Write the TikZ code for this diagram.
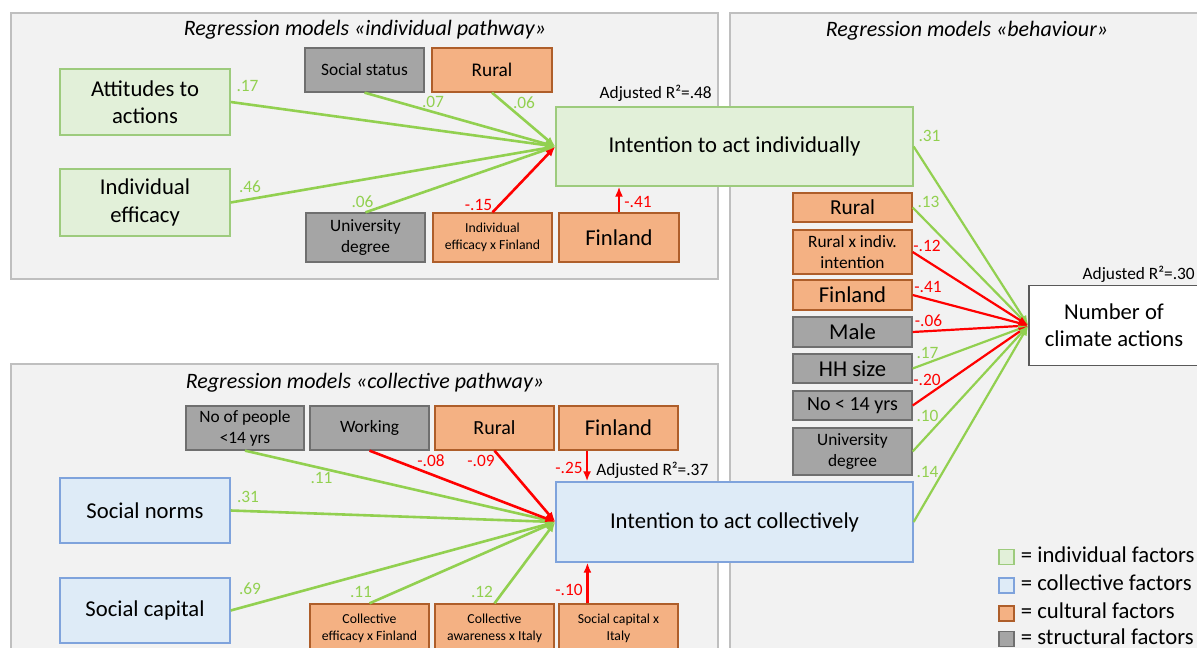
\documentclass[tikz,border=0pt]{standalone}
\usepackage{fontspec}
\setmainfont{Carlito}
\usepackage{xcolor}
\definecolor{panelgray}{HTML}{F2F2F2}
\definecolor{panelline}{HTML}{BFBFBF}
\definecolor{indfill}{HTML}{E2F0D9}
\definecolor{indline}{HTML}{9DCB7D}
\definecolor{colfill}{HTML}{DEEBF7}
\definecolor{colline}{HTML}{7FA3DC}
\definecolor{culfill}{HTML}{F4B183}
\definecolor{culline}{HTML}{AE5E2A}
\definecolor{strfill}{HTML}{A5A5A5}
\definecolor{strline}{HTML}{6F6F6F}
\definecolor{posgreen}{HTML}{92D050}
\definecolor{negred}{HTML}{FF0000}
\usepackage{tikz}
\usetikzlibrary{arrows.meta, positioning}
\newlength{\px}
\setlength{\px}{0.75pt}

\begin{document}
\begin{tikzpicture}[x=\px, y=-\px,
        panel/.style={draw=panelline, fill=panelgray, line width=1.3\px},
        title/.style={font=\itshape\fontsize{16.5}{19.8}\selectfont, inner sep=0pt},
        big/.style={font=\fontsize{17}{20.4}\selectfont},
        mid/.style={font=\fontsize{13}{15.6}\selectfont},
        sml/.style={font=\fontsize{10.3}{12.4}\selectfont},
        sz/.style 2 args={minimum width=#1\px, minimum height=#2\px},
        box/.style={rectangle, line width=1.3\px, align=center, inner sep=0pt},
        indbox/.style={box, draw=indline, fill=indfill},
        colbox/.style={box, draw=colline, fill=colfill},
        culbox/.style={box, draw=culline, fill=culfill},
        strbox/.style={box, draw=strline, fill=strfill},
        outbox/.style={box, draw=strline!80!black, fill=white},
        lgd/.style={sz={15}{15}},
        lgdtext/.style={big, inner sep=0pt, anchor=west, yshift=1.8pt},
        r2/.style={mid, inner sep=0pt},
        cpos/.style={mid, text=posgreen, inner sep=0pt},
        cneg/.style={mid, text=negred, inner sep=0pt},
        posline/.style={draw=posgreen, line width=1.95pt, -{Latex[length=7.5pt, width=6pt]}},
        negline/.style={draw=negred, line width=1.95pt, -{Latex[length=7.5pt, width=6pt]}},
        slim/.style={line width=1.65pt}]

    \clip (0,0) rectangle (1197,648);
    \fill [white] (0,0) rectangle (1197,648);

    \draw [panel] (11,13) rectangle (718,279);
    \draw [panel] (730,13) rectangle (1210,660);
    \draw [panel] (11,364) rectangle (718,660);

    \node [title] (tind) at (365,30) {Regression models «individual pathway»};
    \node [title] (tbeh) at (967,31) {Regression models «behaviour»};
    \node [title] (tcol) at (365,383) {Regression models «collective pathway»};

    \node [indbox, sz={170}{66}, big] (att) at (145,102) {Attitudes to\\actions};
    \node [indbox, sz={170}{67}, big] (ieff) at (145,202.5) {Individual\\efficacy};
    \node [strbox, sz={119}{44}, mid] (sstat) at (364.5,70) {Social status};
    \node [culbox, sz={120}{44}, font=\fontsize{14.5}{17.4}\selectfont] (rur1) at (492,70) {Rural};
    \node [indbox, sz={357}{79}, big] (ii) at (734.5,146.5) {Intention to act individually};
    \node [strbox, sz={119}{49}, mid] (univ1) at (365.5,237.5) {University\\degree};
    \node [culbox, sz={119}{49}, sml] (ieffin) at (492.5,237.5) {Individual\\efficacy x Finland};
    \node [culbox, sz={120}{49}, big] (fin1) at (619,237.5) {Finland};
    \node [r2, anchor=east] (r2ind) at (712,93) {Adjusted R²=.48};

    \path [posline] (att.east) -- (ii.west);
    \path [posline] (ieff.east) -- (ii.west);
    \path [posline] (sstat.south) -- (ii.west);
    \path [posline] (rur1.south) -- (ii.west);
    \path [posline] (univ1.north) -- (ii.west);
    \path [negline] (ieffin.north) -- (ii.west);
    \path [negline] (fin1.north) -- (fin1.north |- ii.south);

    \node [cpos] (catt) at (247.5,86) {.17};
    \node [cpos] (cieff) at (250,186.5) {.46};
    \node [cpos] (csstat) at (433,102) {.07};
    \node [cpos] (crur1) at (524,103) {.06};
    \node [cpos] (cuniv1) at (362.5,202) {.06};
    \node [cneg] (cieffin) at (478.5,205) {-.15};
    \node [cneg] (cfin1) at (638,202) {-.41};

    \node [culbox, sz={119}{29}, font=\fontsize{16}{19.2}\selectfont] (rur2) at (852.5,207.5) {Rural};
    \node [culbox, sz={119}{44}, mid] (rxi) at (852.5,252) {Rural x indiv.\\intention};
    \node [culbox, sz={119}{30}, big] (fin2) at (852.5,295) {Finland};
    \node [strbox, sz={119}{30}, big] (male) at (852.5,332) {Male};
    \node [strbox, sz={119}{29}, big] (hh) at (852.5,368.5) {HH size};
    \node [strbox, sz={119}{29}, font=\fontsize{15}{18}\selectfont] (no14) at (852.5,405.5) {No < 14 yrs};
    \node [strbox, sz={119}{47}, mid] (univ2) at (852.5,451.5) {University\\degree};
    \node [outbox, sz={170}{80}, big] (nca) at (1114,325.5) {Number of\\climate actions};
    \node [r2, anchor=east] (r2beh) at (1195,274) {Adjusted R²=.30};

    \node [strbox, sz={118}{44}, mid] (nop) at (245,428) {No of people\\<14 yrs};
    \node [strbox, sz={119}{44}, mid] (work) at (369.5,428) {Working};
    \node [culbox, sz={119}{44}, font=\fontsize{15}{18}\selectfont] (rur3) at (494.5,428) {Rural};
    \node [culbox, sz={119}{44}, big] (fin3) at (618.5,428) {Finland};
    \node [colbox, sz={170}{65}, big] (snorm) at (145,510.5) {Social norms};
    \node [colbox, sz={170}{65}, big] (scap) at (145,610.5) {Social capital};
    \node [colbox, sz={357}{80}, big] (ic) at (734.5,522) {Intention to act collectively};
    \node [culbox, sz={119}{49}, sml] (ceff) at (369.5,628.5) {Collective\\efficacy x Finland};
    \node [culbox, sz={119}{49}, sml] (cawit) at (494.5,628.5) {Collective\\awareness x Italy};
    \node [culbox, sz={119}{49}, sml] (scit) at (618.5,628.5) {Social capital x\\Italy};
    \node [r2, anchor=west] (r2col) at (596,470) {Adjusted R²=.37};

    \path [posline] (nop.south) -- (ic.west);
    \path [posline] (snorm.east) -- (ic.west);
    \path [posline] (scap.east) -- (ic.west);
    \path [negline] (work.south) -- (ic.west);
    \path [negline] (rur3.south) -- (ic.west);
    \path [posline] (ceff.north) -- (ic.west);
    \path [posline] (cawit.north) -- (ic.west);
    \path [negline] ([xshift=-23.6pt]fin3.south) -- ([xshift=-23.6pt]fin3.south |- ic.north);
    \path [negline] ([xshift=-23.3pt]scit.north) -- ([xshift=-23.3pt]scit.north |- ic.south);

    \node [cpos] (cnop) at (321.5,478) {.11};
    \node [cpos] (csnorm) at (248,497) {.31};
    \node [cpos] (cscap) at (250,589) {.69};
    \node [cneg] (cwork) at (431,461) {-.08};
    \node [cneg] (crur3) at (481,461) {-.09};
    \node [cneg] (cfin3) at (569,468) {-.25};
    \node [cpos] (cceff) at (361,592) {.11};
    \node [cpos] (ccawit) at (482,592) {.12};
    \node [cneg] (cscit) at (569,590) {-.10};

    \path [posline, slim] (ii.east) -- (nca.west);
    \path [posline, slim] (rur2.east) -- (nca.west);
    \path [negline, slim] (rxi.east) -- (nca.west);
    \path [negline, slim] (fin2.east) -- (nca.west);
    \path [negline, slim] (male.east) -- (nca.west);
    \path [posline, slim] (hh.east) -- (nca.west);
    \path [negline, slim] (no14.east) -- (nca.west);
    \path [posline, slim] (univ2.east) -- (nca.west);
    \path [posline, slim] (ic.east) -- (nca.west);

    \node [cpos] (cii) at (929.5,135.5) {.31};
    \node [cpos] (crur2) at (928.5,202) {.13};
    \node [cneg] (crxi) at (927,246) {-.12};
    \node [cneg] (cfin2) at (928,287) {-.41};
    \node [cneg] (cmale) at (928.5,320.5) {-.06};
    \node [cpos] (chh) at (927.5,353) {.17};
    \node [cneg] (cno14) at (927,380) {-.20};
    \node [cpos] (cuniv2) at (927.5,416) {.10};
    \node [cpos] (cic) at (927.5,471.5) {.14};

    \node [indbox, lgd] (lg1) at (1006.5,557) {};
    \node [colbox, lgd] (lg2) at (1006.5,585.5) {};
    \node [culbox, lgd] (lg3) at (1006.5,613.5) {};
    \node [strbox, lgd] (lg4) at (1006.5,639) {};
    \node [lgdtext, right=4.5pt of lg1] (lgt1) {= individual factors};
    \node [lgdtext, right=4.5pt of lg2] (lgt2) {= collective factors};
    \node [lgdtext, right=4.5pt of lg3] (lgt3) {= cultural factors};
    \node [lgdtext, right=4.5pt of lg4] (lgt4) {= structural factors};
\end{tikzpicture}
\end{document}
